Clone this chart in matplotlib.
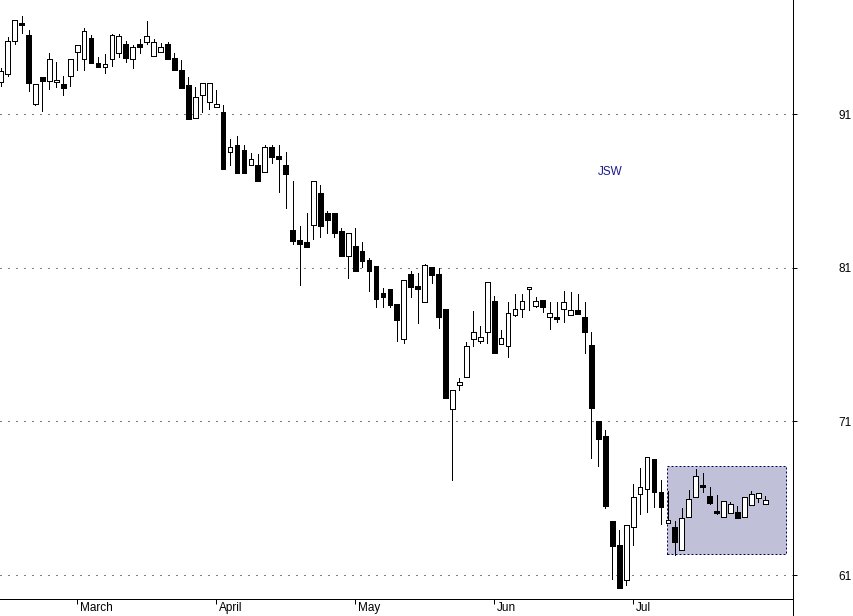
import matplotlib
matplotlib.use("Agg")
import matplotlib.pyplot as plt
from matplotlib.patches import Rectangle
from matplotlib.lines import Line2D
from matplotlib.transforms import ScaledTranslation
import numpy as np

# ---- data ----
opens = [93.08, 93.60, 95.75, 96.95, 96.16, 91.65, 93.41, 93.15, 93.08, 92.95,
         93.51, 95.04, 94.58, 95.95, 94.34, 94.06, 94.58, 94.97, 95.56, 94.58,
         95.58, 95.69, 94.78, 95.04, 95.58, 94.67, 93.87, 92.89, 90.74, 92.24,
         91.82, 91.46, 91.15, 88.57, 89.00, 88.68, 87.68, 87.70, 87.22, 88.85,
         88.29, 87.70, 83.47, 82.82, 82.69, 83.77, 85.88, 84.55, 84.55, 83.40,
         81.79, 82.42, 82.10, 81.51, 81.12, 79.36, 79.62, 78.65, 76.39, 80.60,
         79.82, 78.80, 81.06, 80.60, 78.32, 71.83, 73.39, 73.87, 76.39, 76.26,
         76.84, 78.84, 76.06, 75.89, 77.95, 78.34, 79.60, 78.54, 78.89, 77.82,
         77.80, 78.34, 77.95, 78.26, 77.80, 75.98, 71.03, 70.07, 64.52, 62.95,
         60.68, 64.11, 66.26, 66.58, 68.54, 66.39, 64.37, 64.13, 62.63, 64.78,
         66.06, 66.86, 66.13, 65.15, 64.78, 65.04, 65.12, 64.76, 65.56, 66.03,
         65.60]
highs = [94.02, 96.01, 97.12, 97.40, 96.49, 92.95, 93.41, 95.01, 94.41, 93.49,
         94.58, 95.49, 96.62, 96.16, 94.73, 94.93, 96.25, 96.25, 95.77, 95.53,
         95.90, 97.08, 95.90, 95.64, 95.69, 95.01, 94.54, 93.43, 92.76, 93.02,
         93.02, 92.58, 91.61, 89.39, 89.59, 89.00, 88.46, 88.42, 89.00, 89.00,
         89.00, 88.55, 86.66, 83.75, 84.55, 86.66, 86.40, 84.70, 84.55, 83.58,
         83.25, 83.58, 82.70, 81.62, 81.12, 79.69, 79.62, 78.65, 80.21, 80.80,
         80.69, 81.25, 81.06, 80.97, 78.32, 73.05, 73.81, 76.17, 78.19, 77.22,
         80.06, 79.17, 76.95, 78.76, 79.30, 79.32, 79.73, 79.08, 78.89, 78.76,
         78.76, 79.47, 79.41, 79.30, 78.76, 76.81, 71.03, 70.44, 64.52, 63.93,
         64.24, 66.93, 67.99, 68.67, 68.54, 67.19, 66.47, 64.52, 65.34, 66.54,
         67.88, 67.62, 66.75, 66.21, 65.82, 65.77, 65.49, 66.06, 66.49, 66.32,
         66.13]
lows = [92.86, 93.51, 95.56, 96.31, 92.54, 91.59, 91.23, 92.65, 92.76, 92.28,
        92.84, 93.88, 93.90, 94.32, 94.06, 93.67, 94.17, 94.75, 94.43, 94.03,
        95.01, 95.56, 94.78, 95.04, 94.62, 93.87, 92.69, 90.69, 90.74, 91.15,
        91.33, 91.46, 87.46, 87.70, 87.20, 87.20, 87.68, 86.68, 87.22, 87.85,
        85.96, 84.88, 82.54, 79.89, 82.38, 82.90, 83.03, 83.27, 83.03, 81.79,
        80.32, 80.82, 81.08, 79.51, 78.43, 78.47, 78.47, 76.26, 76.09, 79.08,
        77.43, 78.80, 80.00, 77.07, 72.55, 67.19, 73.05, 73.87, 75.93, 76.13,
        76.09, 75.48, 76.06, 75.22, 77.89, 77.82, 78.26, 78.47, 78.15, 77.02,
        77.46, 77.48, 77.95, 78.02, 75.49, 68.60, 68.12, 65.34, 60.72, 60.13,
        60.35, 62.93, 64.95, 65.12, 65.45, 64.30, 64.37, 62.30, 62.63, 64.78,
        66.06, 66.39, 65.60, 64.97, 64.78, 65.04, 64.69, 64.76, 65.56, 65.77,
        65.60]
closes = [93.82, 95.75, 97.12, 96.83, 93.06, 92.95, 93.19, 94.58, 93.21, 92.73,
          94.58, 95.49, 96.41, 94.32, 94.06, 94.26, 96.14, 96.08, 94.65, 95.36,
          95.36, 96.08, 95.69, 95.36, 94.62, 93.87, 92.69, 90.69, 92.11, 93.02,
          93.02, 91.67, 87.46, 88.85, 87.20, 87.20, 88.07, 86.68, 88.85, 88.24,
          88.07, 87.13, 82.77, 82.54, 82.38, 86.66, 83.75, 84.12, 83.25, 81.79,
          83.25, 80.82, 81.47, 80.82, 78.99, 79.12, 78.58, 77.61, 80.21, 79.77,
          79.64, 81.19, 80.54, 77.82, 72.55, 73.05, 73.57, 75.91, 76.82, 76.48,
          80.06, 75.48, 76.41, 78.04, 78.30, 78.82, 79.73, 78.82, 78.47, 78.06,
          77.67, 78.76, 78.26, 78.02, 76.84, 71.86, 69.88, 65.51, 62.91, 60.13,
          64.24, 66.06, 66.71, 68.67, 66.39, 65.45, 64.58, 63.13, 64.69, 65.93,
          67.45, 66.75, 65.67, 65.04, 65.82, 65.60, 64.69, 66.06, 66.26, 66.32,
          65.87]
month_labels = ["March", "April", "May", "Jun", "Jul"]
month_bar_index = [11, 31, 51, 71, 91]
price_ticks = [91, 81, 71, 61]
symbol = "JSW"

# ---- figure ----
W, H = 854, 616
fig = plt.figure(figsize=(W / 100, H / 100), dpi=100)
ax_bottom_px = 599
ax_right_px = 793
ax = fig.add_axes([0, (H - ax_bottom_px) / H, ax_right_px / W, ax_bottom_px / H])
ax.set_facecolor("white")

n = len(opens)
x = np.arange(n)
o = np.array(opens); c = np.array(closes)
hi = np.array(highs); lo = np.array(lows)

px = 6.95  # pixels per bar
ax.set_xlim(-0.7 / px, (ax_right_px - 0.7) / px)
ax.set_ylim(59.44, 98.443)

lw1 = 72 / 100.0  # 1 pixel in points

# grid lines
for t in price_ticks:
    ax.axhline(t, color="black", lw=lw1, linestyle=(0, (1, 7)), zorder=1)

# highlighted region
rect = Rectangle((95.9, 62.40), 17.1, 5.73, facecolor="#c0c0d8",
                 edgecolor="#000060", linewidth=lw1, linestyle=(0, (2, 2)),
                 zorder=2)
ax.add_patch(rect)

# wicks
ax.vlines(x, lo, hi, colors="black", linewidth=lw1, zorder=3, antialiased=False)

# bodies
up = c >= o
bottoms = np.minimum(o, c)
heights = np.abs(c - o)
ax.bar(x[up], heights[up], bottom=bottoms[up], width=0.68, color="white",
       edgecolor="black", linewidth=lw1, zorder=4, antialiased=False)
ax.bar(x[~up], heights[~up], bottom=bottoms[~up], width=0.68, color="black",
       edgecolor="black", linewidth=lw1, zorder=4, antialiased=False)

# symbol label
ax.text(87.7, 87.24, symbol, color="#1a1a8c", fontsize=8.5,
        family="Liberation Sans", ha="center", va="center")

# spines
for s in ["top", "left"]:
    ax.spines[s].set_visible(False)
ax.spines["bottom"].set_linewidth(lw1)
ax.spines["right"].set_linewidth(lw1)

# right axis ticks
ax.yaxis.tick_right()
ax.set_yticks(price_ticks)
ax.set_yticklabels([str(t) for t in price_ticks], family="Liberation Sans",
                   fontsize=8.5)
ax.tick_params(axis="y", direction="out", length=3, width=lw1, pad=30)

# month ticks
ax.set_xticks(month_bar_index)
ax.set_xticklabels(month_labels, family="Liberation Sans", fontsize=8.5)
ax.tick_params(axis="x", direction="out", length=3.5, width=lw1, pad=-1.5)
for lab in ax.get_xticklabels():
    lab.set_ha("left")
    lab.set_transform(lab.get_transform() + ScaledTranslation(3 / 100, 0, fig.dpi_scale_trans))

# right axis line continues to the figure bottom
xr = ax_right_px / W
fig.add_artist(Line2D([xr, xr], [0, (H - ax_bottom_px) / H], transform=fig.transFigure,
                      color="black", linewidth=lw1))

fig.savefig("out.png", dpi=100)
